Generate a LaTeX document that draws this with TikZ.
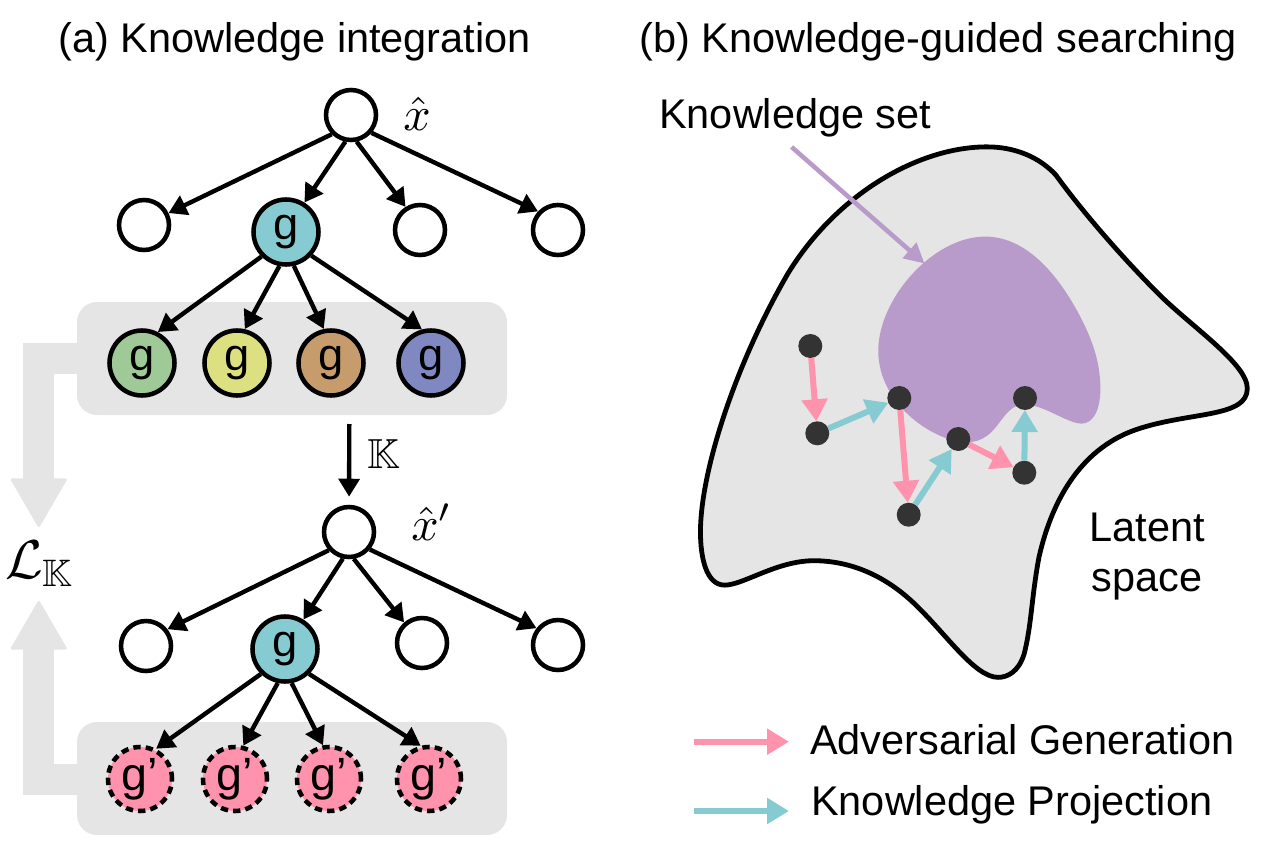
\documentclass[tikz,border=0pt]{standalone}
\usepackage{amsmath,amssymb}
\usepackage{fontspec}
\setmainfont{Liberation Sans}
\usetikzlibrary{arrows.meta}
\definecolor{bgray}{HTML}{E5E5E5}
\definecolor{cteal}{HTML}{86CBD1}
\definecolor{cpink}{HTML}{FF92AD}
\definecolor{cpurple}{HTML}{B99BCB}
\definecolor{cgreen}{HTML}{9FC996}
\definecolor{cyellow}{HTML}{DDE081}
\definecolor{cbrown}{HTML}{C69C6D}
\definecolor{cblue}{HTML}{8088C2}
\definecolor{cdark}{HTML}{333333}
\newcommand{\bigtxt}{\fontsize{31.1}{31}\selectfont}
\tikzset{
 label text/.style={anchor=base west,inner sep=0pt,font=\bigtxt},
 plain node/.style={circle,draw=black,line width=3.4pt,fill=white,minimum size=37.5pt,inner sep=0pt},
 g node/.style={circle,draw=black,line width=3.4pt,minimum size=48.75pt,inner sep=0pt,font=\fontsize{34}{34}\selectfont},
 gp node/.style={circle,draw=black,fill=cpink,line width=3.4pt,dash pattern=on 5.5pt off 3.8pt,minimum size=48pt,inner sep=0pt,font=\fontsize{35}{35}\selectfont},
 dot/.style={circle,fill=cdark,minimum size=18pt,inner sep=0pt,outer sep=0pt},
 group box/.style={fill=bgray,rounded corners=15pt,minimum width=322.5pt,minimum height=84.75pt,inner sep=0pt},
 edge arrow/.style={line width=3.3pt,-{Triangle[length=13.5pt,width=15.5pt]}},
 pink arrow/.style={draw=cpink,line width=4.5pt,-{Triangle[length=16.5pt,width=18.75pt,fill=cpink]}},
 teal arrow/.style={draw=cteal,line width=4.5pt,-{Triangle[length=16.5pt,width=18.75pt,fill=cteal]}},
 gray link/.style={draw=bgray,line width=23.25pt,-{Triangle[round,line width=2pt,length=37.5pt,width=43pt,fill=bgray]}},
}
\begin{document}
\begin{tikzpicture}[x=0.75pt,y=-0.75pt]
\useasboundingbox (0,0) rectangle (1264,849);
% group boxes
\node[group box] (boxa) at (292,358.5) {};
\node[group box] (boxb) at (292,778.5) {};
% loss arrows
\node[inner sep=0pt,anchor=base west] (loss) at (5,578) {\scalebox{4.1}{$\mathcal{L}_{\mathbb{K}}$}};
\coordinate (lossup) at (38.8,527);
\coordinate (lossdown) at (38.8,601);
\coordinate (bendup) at (38.8,358);
\coordinate (benddown) at (38.8,779);
\draw[gray link] (boxa.west |- bendup) -- (bendup) -- (lossup);
\draw[gray link] (boxb.west |- benddown) -- (benddown) -- (lossdown);
% top tree
\node[plain node] (r1) at (351,115) {};
\node[plain node] (a1) at (144,225) {};
\node[g node,fill=cteal] (g1) at (286,232) {g};
\node[plain node] (c1) at (420,230) {};
\node[plain node] (d1) at (558,230) {};
\node[g node,fill=cgreen] (s1) at (142,363) {g};
\node[g node,fill=cyellow] (s2) at (237,363) {g};
\node[g node,fill=cbrown] (s3) at (331,363) {g};
\node[g node,fill=cblue] (s4) at (431,363) {g};
\draw[edge arrow] (r1.-135) -- (a1.26);
\draw[edge arrow] (r1.-102) -- (g1.58);
\draw[edge arrow] (r1.-78) -- (c1.122);
\draw[edge arrow] (r1.-41) -- (d1.137);
\draw[edge arrow] (g1.-135) -- (s1.63);
\draw[edge arrow] (g1.-101) -- (s2.77);
\draw[edge arrow] (g1.-77) -- (s3.102);
\draw[edge arrow] (g1.-43) -- (s4.105);
% lower tree
\node[plain node] (r2) at (349,532) {};
\node[plain node] (a2) at (146,646) {};
\node[g node,fill=cteal] (g2) at (285,649) {g};
\node[plain node] (c2) at (422,643) {};
\node[plain node] (d2) at (558,645) {};
\node[gp node] (t1) at (140,779) {g’};
\node[gp node] (t2) at (235,779) {g’};
\node[gp node] (t3) at (329,779) {g’};
\node[gp node] (t4) at (429,779) {g’};
\draw[edge arrow] (r2.-138) -- (a2.38);
\draw[edge arrow] (r2.-103) -- (g2.58);
\draw[edge arrow] (r2.-80) -- (c2.131);
\draw[edge arrow] (r2.-40) -- (d2.142);
\draw[edge arrow] (g2.-134) -- (t1.62);
\draw[edge arrow] (g2.-102) -- (t2.76);
\draw[edge arrow] (g2.-79) -- (t3.100);
\draw[edge arrow] (g2.-46) -- (t4.104);
% K arrow
\coordinate (kstart) at (349.3,424);
\draw[edge arrow,shorten >=6pt] (kstart) -- (r2);
\node[inner sep=0pt,anchor=base west] (klabel) at (367,468) {\scalebox{3.15}{$\mathbb{K}$}};
\node[inner sep=0pt,anchor=base] (xhat) at (417,130) {\scalebox{3.6}{$\hat{x}$}};
\node[inner sep=0pt,anchor=base west] (xhatp) at (411,540) {\scalebox{3.6}{$\hat{x}'$}};
% titles
\node[label text] (ta) at (58,53) {(a) Knowledge integration};
\node[label text] (tb) at (639,53) {(b) Knowledge-guided searching};
\node[label text] (ks) at (659,128) {Knowledge set};
% blobs
\begin{scope}[shift={(680,130)},x=0.279pt,y=-0.2692pt]
\draw[fill=bgray,draw=black,line width=3.6pt]
 (825,47) .. controls (900,47) and (965,75) .. (1010,125)
 .. controls (1080,225) and (1180,345) .. (1280,450)
 .. controls (1370,545) and (1525,650) .. (1525,720)
 .. controls (1525,800) and (1380,785) .. (1240,830)
 .. controls (1080,880) and (1000,1030) .. (965,1190)
 .. controls (945,1300) and (945,1380) .. (925,1460)
 .. controls (910,1510) and (880,1525) .. (855,1525)
 .. controls (790,1525) and (710,1395) .. (620,1310)
 .. controls (540,1235) and (450,1200) .. (360,1200)
 .. controls (260,1200) and (170,1268) .. (120,1268)
 .. controls (70,1268) and (55,1190) .. (55,1120)
 .. controls (55,950) and (150,650) .. (290,400)
 .. controls (420,180) and (640,47) .. (825,47) -- cycle;
\fill[cpurple]
 (820,297) .. controls (930,297) and (1010,400) .. (1060,490)
 .. controls (1110,580) and (1130,650) .. (1130,720)
 .. controls (1130,790) and (1105,818) .. (1080,818)
 .. controls (1040,818) and (980,765) .. (925,765)
 .. controls (860,765) and (860,870) .. (770,870)
 .. controls (690,870) and (533,770) .. (533,615)
 .. controls (533,470) and (680,297) .. (820,297) -- cycle;
\end{scope}
% knowledge set pointer
\coordinate (ksfrom) at (791.6,147);
\coordinate (ksto) at (924.5,263.5);
\draw[draw=cpurple,line width=3.4pt,-{Triangle[length=15pt,width=15pt,fill=cpurple]}] (ksfrom) -- (ksto);
% path dots
\node[dot] (p1) at (810.3,346) {};
\node[dot] (p2) at (817.3,433.3) {};
\node[dot] (p3) at (899.3,398) {};
\node[dot] (p4) at (908.7,514.7) {};
\node[dot] (p5) at (958.3,439) {};
\node[dot] (p6) at (1024.3,472.7) {};
\node[dot] (p7) at (1025,398) {};
\draw[pink arrow] (p1) -- (p2);
\draw[teal arrow] (p2) -- (p3);
\draw[pink arrow] (p3) -- (p4);
\draw[teal arrow] (p4) -- (p5);
\draw[pink arrow] (p5) -- (p6);
\draw[teal arrow] (p6) -- (p7);
% latent space
\node[inner sep=0pt,anchor=base,font=\bigtxt] (ls1) at (1147,541) {Latent};
\node[inner sep=0pt,anchor=base,font=\bigtxt] (ls2) at (1147,591) {space};
% legend
\coordinate (la1) at (694,741.7);
\coordinate (la2) at (789,741.7);
\coordinate (lb1) at (694,811);
\coordinate (lb2) at (789,811);
\draw[pink arrow] (la1) -- (la2);
\draw[teal arrow] (lb1) -- (lb2);
\node[label text] (lga) at (810,754) {Adversarial Generation};
\node[label text] (lgb) at (811,815) {Knowledge Projection};
\end{tikzpicture}
\end{document}
